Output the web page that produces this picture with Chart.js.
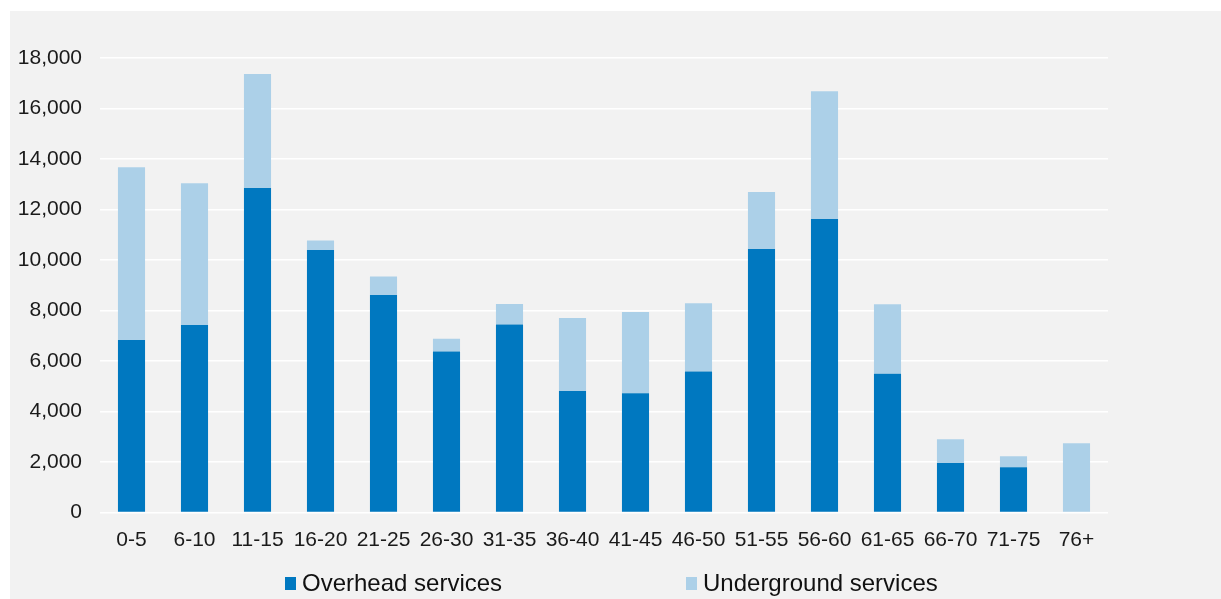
<!DOCTYPE html>
<html>
<head>
<meta charset="utf-8">
<script src="https://cdn.jsdelivr.net/npm/chart.js@4.4.1/dist/chart.umd.min.js"></script>
<style>
  html, body { margin: 0; padding: 0; background: #ffffff; }
  #wrap { position: absolute; left: 10px; top: 11px; width: 1211px; height: 588px; background: #f2f2f2; }
  canvas { display: block; }
</style>
</head>
<body>
<div id="wrap"><canvas id="chart" width="1211" height="588"></canvas></div>
<script>
// Service age bands (years)
const categories = ['0-5', '6-10', '11-15', '16-20', '21-25', '26-30', '31-35', '36-40',
                    '41-45', '46-50', '51-55', '56-60', '61-65', '66-70', '71-75', '76+'];

// Number of services in each age band
const overhead    = [6830, 7430, 12850, 10400, 8610, 6380, 7450, 4810,
                     4720, 5580, 10440, 11620, 5500, 1960, 1790, 0];
const underground = [6840, 5610, 4520, 370, 740, 500, 810, 2890,
                     3220, 2710, 2250, 5060, 2750, 940, 440, 2740];

const seriesNames = ['Overhead services', 'Underground services'];

// Value axis ticks
const yTicks = [0, 2000, 4000, 6000, 8000, 10000, 12000, 14000, 16000, 18000];

const FONT = "'Liberation Sans', Arial, Helvetica, sans-serif";
const DARK = '#0078c0';
const LIGHT = '#acd0e8';

// Legend drawn along the bottom, one swatch + label per dataset
const bottomLegend = {
  id: 'bottomLegend',
  afterDraw(chart) {
    const ctx = chart.ctx;
    const slots = [275, 676];
    ctx.save();
    ctx.font = '24px ' + FONT;
    ctx.textBaseline = 'middle';
    ctx.textAlign = 'left';
    chart.data.datasets.forEach((ds, i) => {
      const x = slots[i];
      ctx.fillStyle = ds.backgroundColor;
      ctx.fillRect(x, 566, 11, 13);
      ctx.fillStyle = '#111111';
      ctx.fillText(ds.label, x + 17, 573);
    });
    ctx.restore();
  }
};

new Chart(document.getElementById('chart'), {
  type: 'bar',
  data: {
    labels: categories,
    datasets: [
      { label: seriesNames[0], data: overhead, backgroundColor: DARK },
      { label: seriesNames[1], data: underground, backgroundColor: LIGHT }
    ]
  },
  options: {
    responsive: false,
    animation: false,
    devicePixelRatio: 1,
    layout: { padding: { top: 47, right: 113, bottom: 46.5, left: 0 } },
    datasets: {
      bar: { categoryPercentage: 1, barPercentage: 0.43, borderWidth: 0 }
    },
    plugins: {
      legend: { display: false },
      tooltip: { enabled: false }
    },
    scales: {
      x: {
        stacked: true,
        grid: { display: false, drawTicks: false },
        border: { display: false },
        ticks: { color: '#1a1a1a', font: { family: FONT, size: 21 }, padding: 15, maxRotation: 0, autoSkip: false },
        afterFit(scale) { scale.height = 40; }
      },
      y: {
        stacked: true,
        min: 0,
        max: 18000,
        afterBuildTicks(scale) { scale.ticks = yTicks.map(v => ({ value: v })); },
        grid: { color: '#ffffff', lineWidth: 1.5, drawTicks: false },
        border: { display: false },
        ticks: {
          color: '#1a1a1a',
          font: { family: FONT, size: 21 },
          padding: 18,
          callback: v => Number(v).toLocaleString('en-US')
        },
        afterFit(scale) { scale.width = 90; }
      }
    }
  },
  plugins: [bottomLegend]
});
</script>
</body>
</html>
